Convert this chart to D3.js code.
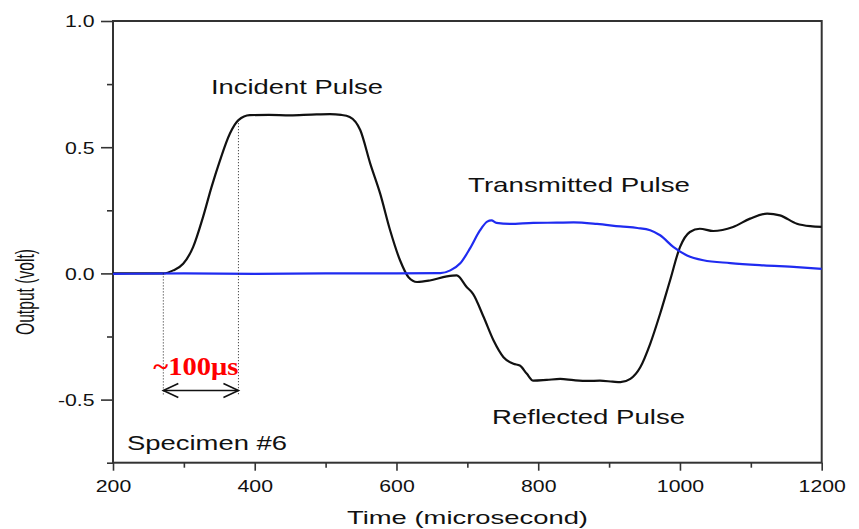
<!DOCTYPE html>
<html>
<head>
<meta charset="utf-8">
<script src="https://cdn.jsdelivr.net/npm/d3@7"></script>
<style>
  body { margin: 0; background: #fff; }
  svg { display: block; }
  .lbl { font-family: "Liberation Sans", Arial, sans-serif; fill: #111; }
</style>
</head>
<body>
<svg id="chart" width="859" height="529"></svg>
<script>
// incident + reflected pulse (black trace), time in microseconds, output in volt
const blackTime = [200, 250, 271, 285, 299, 313, 327, 339, 351, 365, 377, 393, 420, 450, 480, 506, 522, 534, 549, 563, 577, 591, 605, 617, 629, 647, 671, 685, 699, 708, 723, 737, 751, 765, 774, 784, 793, 812, 831, 850, 870, 887, 905, 916, 930, 944, 958, 972, 986, 1000, 1014, 1028, 1047, 1060, 1075, 1099, 1123, 1141, 1165, 1184, 1200];
const blackVolt = [0, 0, 0, 0.012, 0.038, 0.104, 0.223, 0.342, 0.448, 0.554, 0.607, 0.627, 0.628, 0.626, 0.629, 0.631, 0.628, 0.62, 0.567, 0.435, 0.316, 0.171, 0.052, -0.015, -0.034, -0.028, -0.012, -0.008, -0.054, -0.081, -0.173, -0.266, -0.332, -0.358, -0.365, -0.398, -0.425, -0.422, -0.418, -0.423, -0.426, -0.425, -0.429, -0.431, -0.418, -0.372, -0.279, -0.16, -0.028, 0.104, 0.164, 0.177, 0.168, 0.172, 0.184, 0.217, 0.237, 0.23, 0.197, 0.187, 0.184];

// transmitted pulse (blue trace)
const blueTime = [200, 300, 400, 500, 600, 662, 676, 690, 704, 718, 728, 734, 741, 760, 793, 826, 850, 883, 916, 940, 958, 972, 991, 1010, 1033, 1071, 1118, 1165, 1200];
const blueVolt = [-0.002, 0, -0.002, 0, 0, 0.001, 0.012, 0.04, 0.1, 0.171, 0.205, 0.21, 0.2, 0.196, 0.2, 0.201, 0.202, 0.196, 0.186, 0.18, 0.171, 0.151, 0.104, 0.071, 0.052, 0.041, 0.032, 0.025, 0.018];

const xTicks = [200, 400, 600, 800, 1000, 1200];
const yTicks = [-0.5, 0.0, 0.5, 1.0];
const xMinor = [300, 500, 700, 900, 1100];
const yMinor = [-0.75, -0.25, 0.25, 0.75];

// rise-time marker (~100 µs)
const markerTimes = [271, 377];
const markerVolts = [0, 0.607];
const arrowVolt = -0.464;
const dotBottomVolt = -0.484;

const width = 859, height = 529;
const margin = { top: 21, right: 37.3, bottom: 66.3, left: 113 };
const iw = width - margin.left - margin.right;
const ih = height - margin.top - margin.bottom;
const SX = 1.25; // the original graphic is stretched horizontally

const svg = d3.select("#chart");
const g = svg.append("g").attr("transform", `translate(${margin.left},${margin.top})`);

const x = d3.scaleLinear().domain([200, 1200]).range([0, iw]);
const y = d3.scaleLinear().domain([-0.75, 1.0]).range([ih, 0]);

// axes
const xAxis = g.append("g")
  .attr("transform", `translate(0,${ih})`)
  .call(d3.axisBottom(x).tickValues(xTicks).tickSize(8).tickPadding(9).tickFormat(d3.format("d")));
g.append("g")
  .attr("transform", `translate(0,${ih})`)
  .call(d3.axisBottom(x).tickValues(xMinor).tickSize(5).tickFormat(""));

const yAxis = g.append("g")
  .call(d3.axisLeft(y).tickValues(yTicks).tickSize(12).tickPadding(7)
    .tickFormat(d => d3.format(".1f")(d).replace("\u2212", "-")));
g.append("g")
  .call(d3.axisLeft(y).tickValues(yMinor).tickSize(6).tickFormat(""));

g.selectAll(".domain").remove();
g.selectAll(".tick line").attr("stroke", "#333").attr("stroke-width", 1.6);

xAxis.selectAll("text")
  .attr("class", "lbl")
  .attr("font-size", 17)
  .attr("y", 0)
  .attr("dy", 0)
  .attr("transform", `translate(0,29) scale(${SX},1)`);
yAxis.selectAll("text")
  .attr("class", "lbl")
  .attr("font-size", 17)
  .attr("x", 0)
  .attr("dy", "0.35em")
  .attr("transform", `translate(-18.5,0) scale(${SX},1)`);

// frame
g.append("rect")
  .attr("width", iw).attr("height", ih)
  .attr("fill", "none")
  .attr("stroke", "#333")
  .attr("stroke-width", 2);

// traces
const line = d3.line()
  .x(d => x(d[0]))
  .y(d => y(d[1]))
  .curve(d3.curveMonotoneX);

g.append("path")
  .datum(blackTime.map((t, i) => [t, blackVolt[i]]))
  .attr("fill", "none")
  .attr("stroke", "#111")
  .attr("stroke-width", 2.2)
  .attr("d", line);

g.append("path")
  .datum(blueTime.map((t, i) => [t, blueVolt[i]]))
  .attr("fill", "none")
  .attr("stroke", "#1f2bf0")
  .attr("stroke-width", 2.2)
  .attr("d", line);

// dotted guide lines
markerTimes.forEach((t, i) => {
  g.append("line")
    .attr("x1", x(t)).attr("x2", x(t))
    .attr("y1", y(markerVolts[i])).attr("y2", y(dotBottomVolt))
    .attr("stroke", "#222")
    .attr("stroke-width", 1)
    .attr("stroke-dasharray", "1,2");
});

// double-headed arrow
const ax1 = x(markerTimes[0]), ax2 = x(markerTimes[1]), ay = y(arrowVolt);
const arrow = g.append("g").attr("stroke", "#111").attr("stroke-width", 1.6).attr("fill", "none");
arrow.append("line").attr("x1", ax1).attr("x2", ax2).attr("y1", ay).attr("y2", ay);
arrow.append("path").attr("d", `M${ax1 + 15},${ay - 7} L${ax1},${ay} L${ax1 + 15},${ay + 7}`);
arrow.append("path").attr("d", `M${ax2 - 15},${ay - 7} L${ax2},${ay} L${ax2 - 15},${ay + 7}`);

// "~100µs" label
g.append("text")
  .attr("x", x(markerTimes[0]) - 10)
  .attr("y", ay - 16)
  .attr("font-family", "'Liberation Serif', 'Times New Roman', serif")
  .attr("font-weight", "bold")
  .attr("font-size", 25)
  .attr("fill", "#f00")
  .attr("textLength", 85)
  .attr("lengthAdjust", "spacingAndGlyphs")
  .text("~100μs");

// annotations (absolute page coordinates)
const notes = [
  { text: "Incident Pulse", x: 211, y: 94, w: 172, size: 21 },
  { text: "Transmitted Pulse", x: 468, y: 192, w: 222, size: 21 },
  { text: "Reflected Pulse", x: 492, y: 424, w: 193, size: 21 },
  { text: "Specimen #6", x: 127, y: 450, w: 160, size: 21 },
  { text: "Time (microsecond)", x: 347, y: 524, w: 241, size: 19 }
];
notes.forEach(n => {
  svg.append("text")
    .attr("class", "lbl")
    .attr("x", n.x).attr("y", n.y)
    .attr("font-size", n.size)
    .attr("textLength", n.w)
    .attr("lengthAdjust", "spacingAndGlyphs")
    .text(n.text);
});

svg.append("text")
  .attr("class", "lbl")
  .attr("font-size", 18)
  .attr("text-anchor", "middle")
  .attr("textLength", 86)
  .attr("lengthAdjust", "spacingAndGlyphs")
  .attr("transform", `translate(34,292) scale(1.4,1) rotate(-90)`)
  .text("Output (volt)");
</script>
</body>
</html>
